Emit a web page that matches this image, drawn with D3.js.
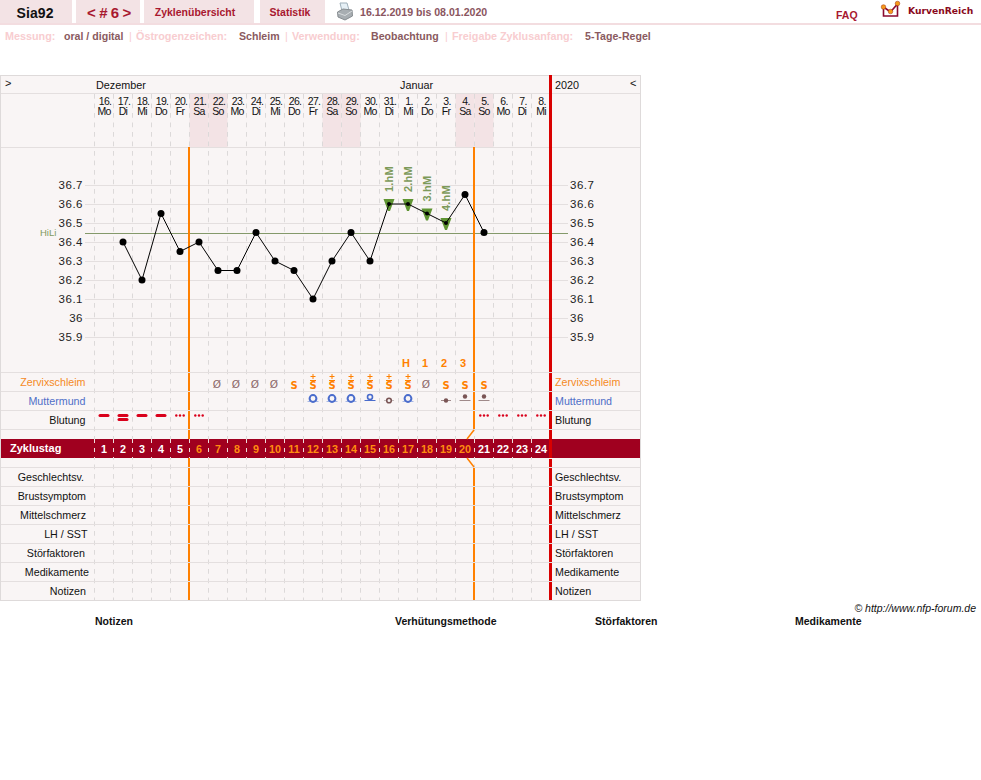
<!DOCTYPE html>
<html><head><meta charset="utf-8">
<style>html,body{margin:0;padding:0;background:#fff}svg{display:block}text{font-family:"Liberation Sans",Arial,sans-serif}</style>
<script src="https://cdn.jsdelivr.net/npm/d3@7"></script></head><body>
<script>
const dayLabels=["16.","17.","18.","19.","20.","21.","22.","23.","24.","25.","26.","27.","28.","29.","30.","31.","1.","2.","3.","4.","5.","6.","7.","8."];
const weekdays=["Mo","Di","Mi","Do","Fr","Sa","So","Mo","Di","Mi","Do","Fr","Sa","So","Mo","Di","Mi","Do","Fr","Sa","So","Mo","Di","Mi"];
const temps=[null,36.4,36.2,36.55,36.35,36.4,36.25,36.25,36.45,36.3,36.25,36.1,36.3,36.45,36.3,36.6,36.6,36.55,36.5,36.65,36.45,null,null,null];
const tempTicks=[36.7,36.6,36.5,36.4,36.3,36.2,36.1,36,35.9];
const hiLi=36.45;
const highMarks=[[15,"1.hM"],[16,"2.hM"],[17,"3.hM"],[18,"4.hM"]];
const peakMarks=[[16,"H"],[17,"1"],[18,"2"],[19,"3"]];
const mucus=["","","","","","","Ø","Ø","Ø","Ø","S","S+","S+","S+","S+","S+","S+","Ø","S","S","S","","",""];
const cervix=["","","","","","","","","","","","open","open","open","mid","low","open","","flat","dot","dot","","",""];
const bleeding=["heavy","double","heavy","heavy","light","light","","","","","","","","","","","","","","","light","light","light","light"];
const cycleDays=d3.range(1,25);
const rowLabels=[["Zervixschleim","#f58a1f"],["Muttermund","#4f6fc8"],["Blutung","#111"]];
const lowerLabels=["Geschlechtsv.","Brustsymptom","Mittelschmerz","LH / SST","Störfaktoren","Medikamente","Notizen"];
const lowerLabelEnds=[84,86,86,87.5,85,89,86];
const meta=[["Messung:",5,0],["oral / digital",64,1],["|",129,0],["Östrogenzeichen:",136,0],["Schleim",239,1],["|",285,0],["Verwendung:",292,0],["Beobachtung",371,1],["|",445,0],["Freigabe Zyklusanfang:",452,0],["5-Tage-Regel",585,1]];
const tabs=[[0,72],[76,140],[144,254],[260,325]];
const footer=[["Notizen",95],["Verhütungsmethode",395],["Störfaktoren",595],["Medikamente",795]];
const weekendIdx=[5,6,12,13,19,20];
const rowLinesY=[93,147,372,391,410,429,467,486,505,524,543,562,581];

const W=981,H=780;
const svg=d3.select("body").append("svg").attr("width",W).attr("height",H);
const x=d3.scaleBand().domain(d3.range(24)).range([94.5,550.5]);
const cx=i=>x(i)+x.bandwidth()/2;
const y=d3.scaleLinear().domain([36.7,35.9]).range([185,337]);
const BAR="#a0001f",RED="#d90000",ORANGE="#ff8000",GRID="#e4dfdf",DASH="#dcd9d9",BG="#f9f5f5";
const txt=(g,s,px,py,o={})=>{const t=g.append("text").attr("x",px).attr("y",py).text(s)
  .attr("font-size",o.size||11).attr("fill",o.fill||"#111");
  if(o.bold)t.attr("font-weight","bold");if(o.anchor)t.attr("text-anchor",o.anchor);
  if(o.ls!=null)t.attr("letter-spacing",o.ls);if(o.italic)t.attr("font-style","italic");
  if(o.font)t.style("font-family",o.font);return t;};

// header
const hdr=svg.append("g");
hdr.selectAll("rect.tab").data(tabs).join("rect").attr("x",d=>d[0]).attr("y",0).attr("width",d=>d[1]-d[0]).attr("height",23).attr("fill","#f3e3e5");
hdr.append("rect").attr("x",0).attr("y",23).attr("width",W).attr("height",2).attr("fill","#f3dde0");
txt(hdr,"Sia92",35,18,{size:14,bold:true,anchor:"middle",fill:"#111",ls:.1});
txt(hdr,"< # 6 >",109,18,{size:15,bold:true,anchor:"middle",fill:"#a8182f",ls:-.4});
txt(hdr,"Zyklenübersicht",195,16,{size:10.5,bold:true,anchor:"middle",fill:"#a8182f"});
txt(hdr,"Statistik",290,16,{size:10.5,bold:true,anchor:"middle",fill:"#a8182f"});
txt(hdr,"16.12.2019 bis 08.01.2020",360,16,{size:10.6,bold:true,fill:"#8a5560"});
txt(hdr,"FAQ",836,18.5,{size:10.5,bold:true,fill:"#a8182f"});
txt(hdr,"KurvenReich",908,14,{size:9.2,bold:true,fill:"#8a0a20",font:"'DejaVu Sans'"});
// printer icon
const pr=hdr.append("g");
pr.append("path").attr("d","M340 3 L347 3 L349 10 L342 11 Z").attr("fill","#e6f0f6").attr("stroke","#9fb0ba");
pr.append("path").attr("d","M337.5 12 L343 9 L352 10 L352.5 16 L345 20 L338 17 Z").attr("fill","#a8aeb2").attr("stroke","#868c90");
pr.append("path").attr("d","M338 13 L345 15.5 L352 11").attr("fill","none").attr("stroke","#d8dcde");
// logo
const lg=hdr.append("g");
lg.append("path").attr("d","M883.5 7 L890.5 12 L897.5 4 L897.5 16 L883.5 16 Z").attr("fill","#fff").attr("stroke","#8a0a30").attr("stroke-width",1.6);
lg.selectAll("circle").data([[883.5,7],[890.5,11.5],[897.5,3.5]]).join("circle").attr("cx",d=>d[0]).attr("cy",d=>d[1]).attr("r",2.3).attr("fill","#f59a1a").attr("stroke","#a03010").attr("stroke-width",.5);

// meta row
const mg=svg.append("g");
meta.forEach(m=>txt(mg,m[0],m[1],40,{size:m[2]?10.6:10.8,bold:m[0]!=="|",fill:m[2]?"#8a5a60":"#f8cdd0"}));

// chart frame
const c=svg.append("g");
c.append("rect").attr("x",0.5).attr("y",75.5).attr("width",640).attr("height",525).attr("fill",BG).attr("stroke","#dedada");
c.selectAll("rect.we").data(weekendIdx).join("rect").attr("x",d=>x(d)).attr("y",94).attr("width",x.bandwidth()).attr("height",53).attr("fill","#f3e3e5");
// vertical dashed lines
c.selectAll("line.v").data(d3.range(24)).join("line").attr("x1",d=>x(d)).attr("x2",d=>x(d)).attr("y1",94).attr("y2",600)
 .attr("stroke",DASH).attr("stroke-dasharray","4.75,4.75");
// rows
c.selectAll("line.r").data(rowLinesY).join("line").attr("x1",1).attr("x2",640).attr("y1",d=>d+.5).attr("y2",d=>d+.5).attr("stroke",GRID);
// temp grid
c.selectAll("line.t").data(tempTicks).join("line").attr("x1",85).attr("x2",568).attr("y1",d=>Math.round(y(d))+.5).attr("y2",d=>Math.round(y(d))+.5).attr("stroke",GRID);
// axes
const axL=c.append("g").attr("transform","translate(83,0)").call(d3.axisLeft(y).tickValues(tempTicks).tickSize(0).tickPadding(0).tickFormat(d=>String(d)));
const axR=c.append("g").attr("transform","translate(570,0)").call(d3.axisRight(y).tickValues(tempTicks).tickSize(0).tickPadding(0).tickFormat(d=>String(d)));
[axL,axR].forEach(a=>{a.select(".domain").remove();a.selectAll("text").attr("font-size",11.5).attr("letter-spacing",.5).attr("fill","#222").style("font-family","'Liberation Sans'");});
// HiLi
c.append("line").attr("x1",85).attr("x2",568).attr("y1",Math.ceil(y(hiLi))+.5).attr("y2",Math.ceil(y(hiLi))+.5).attr("stroke","#84996a");
txt(c,"HiLi",40,236,{size:9.5,fill:"#7f9a5e"});
// month header
txt(c,"Dezember",96,89,{size:10.8});txt(c,"Januar",400,89,{size:10.8});txt(c,"2020",555,89,{size:10.8});txt(c,">",5,87);txt(c,"<",630,87);
// days
const tg=c.append("g");
dayLabels.forEach((d,i)=>{txt(tg,d,cx(i)+1,105,{size:10.5,anchor:"middle",ls:-.7});txt(tg,weekdays[i],cx(i),115,{size:10.5,anchor:"middle",ls:-.7});});

// bar
c.append("rect").attr("x",1).attr("y",439).attr("width",639).attr("height",19).attr("fill",BAR);
c.selectAll("line.b").data(d3.range(24)).join("line").attr("x1",d=>x(d)).attr("x2",d=>x(d)).attr("y1",439).attr("y2",458).attr("stroke","#efdcdc").attr("stroke-dasharray","4,5");
txt(c,"Zyklustag",10,452,{bold:true,fill:"#fff"});
cycleDays.forEach((d,i)=>txt(c,d,cx(i),453,{size:10.8,bold:true,anchor:"middle",fill:(i>=5&&i<20)?"#ff8c10":"#fff"}));

// orange lines, broken at row borders
const orangeX=[x(5)-.5,x(20)-.5];
const segs=[[147,372],[373,391],[392,410],[411,429],[468,486],[487,505],[506,524],[525,543],[544,562],[563,581],[582,600]];
orangeX.forEach((ox,k)=>{
  segs.forEach(b=>c.append("line").attr("x1",ox).attr("x2",ox).attr("y1",b[0]).attr("y2",b[1]).attr("stroke",ORANGE).attr("stroke-width",2));
  if(k===0){
    [[430,439],[458,467]].forEach(b=>c.append("line").attr("x1",ox).attr("x2",ox).attr("y1",b[0]).attr("y2",b[1]).attr("stroke",ORANGE).attr("stroke-width",2));
  } else {
    c.append("line").attr("x1",ox).attr("x2",ox-7).attr("y1",430).attr("y2",439).attr("stroke",ORANGE).attr("stroke-width",1.5);
    c.append("line").attr("x1",ox-7).attr("x2",ox).attr("y1",458).attr("y2",467).attr("stroke",ORANGE).attr("stroke-width",1.5);
  }
});
// thick red line
[[75,372],[373,391],[392,410],[411,429],[430,458],[459,467],[468,486],[487,505],[506,524],[525,543],[544,562],[563,581],[582,600]].forEach(b=>
 c.append("rect").attr("x",549).attr("y",b[0]).attr("width",3).attr("height",b[1]-b[0]).attr("fill",RED));

// row labels
const rowY=[386,405,424];
rowLabels.forEach((r,i)=>{txt(c,r[0],85.5,rowY[i],{size:10.7,anchor:"end",fill:r[1]});txt(c,r[0],555,rowY[i],{size:10.7,fill:r[1]});});
lowerLabels.forEach((l,i)=>{const py=481+i*19;txt(c,l,lowerLabelEnds[i],py,{size:10.7,anchor:"end"});txt(c,l,555,py,{size:10.7});});

// peak marks
peakMarks.forEach(p=>txt(c,p[1],cx(p[0])-2,367,{bold:true,anchor:"middle",fill:ORANGE}));
// mucus
mucus.forEach((m,i)=>{ if(!m)return;
  if(m==="Ø"){txt(c,"Ø",cx(i)-1,387.5,{anchor:"middle",size:10.5,fill:"#8a6666",font:"'DejaVu Sans'"});return;}
  txt(c,"S",cx(i),388.5,{anchor:"middle",bold:true,size:10,fill:ORANGE,font:"'DejaVu Sans'"});
  if(m==="S+"){ // plus with a bar under it, drawn as a glyph above the S
    const px=cx(i);
    c.append("path").attr("d",`M${px-2.5} 376.5 H${px+2.5} M${px} 374 V379 M${px-3} 380.5 H${px+3}`).attr("stroke",ORANGE).attr("fill","none");
  }
});
// cervix
const BLUE="#4a6ccc",BRN="#7a5555";
cervix.forEach((t,i)=>{ if(!t)return; const px=cx(i);
  const ln=(py,w,col)=>c.append("line").attr("x1",px-w).attr("x2",px+w).attr("y1",py).attr("y2",py).attr("stroke",col);
  if(t==="open"){ln(401.5,5.5,"#a8b8e4");c.append("circle").attr("cx",px).attr("cy",398.5).attr("r",3.4).attr("fill",BG).attr("stroke",BLUE).attr("stroke-width",2);}
  if(t==="mid"){ln(400.5,5.5,BLUE);c.append("circle").attr("cx",px).attr("cy",397).attr("r",2.5).attr("fill",BG).attr("stroke",BLUE).attr("stroke-width",1.6);}
  if(t==="low"){ln(400.5,5,"#c5bcbc");c.append("circle").attr("cx",px).attr("cy",400.5).attr("r",2.3).attr("fill",BG).attr("stroke",BRN).attr("stroke-width",1.6);}
  if(t==="flat"){ln(400.5,5,"#a08a8a");c.append("circle").attr("cx",px).attr("cy",400.5).attr("r",2.2).attr("fill",BRN);}
  if(t==="dot"){ln(400.5,5.5,"#a08a8a");c.append("circle").attr("cx",px).attr("cy",396.5).attr("r",2.2).attr("fill",BRN);}
});
// bleeding
bleeding.forEach((b,i)=>{ if(!b)return; const px=cx(i);
  const dash=py=>c.append("rect").attr("x",px-5.5).attr("y",py).attr("width",11).attr("height",3).attr("rx",1.5).attr("fill","#d9001b");
  if(b==="heavy")dash(414);
  if(b==="double"){dash(414);dash(418);}
  if(b==="light")[-3.7,0,3.7].forEach(o=>c.append("circle").attr("cx",px+o).attr("cy",415.5).attr("r",1.2).attr("fill","#d9001b"));
});

// temperature line
const line=d3.line().defined(d=>d!=null).x((d,i)=>cx(i)).y(d=>y(d));
const highIdx=highMarks.map(h=>h[0]);
// high marks below the curve
highMarks.forEach(h=>{const px=cx(h[0]),py=y(temps[h[0]]);
  c.append("path").attr("d",`M${px-5.5} ${py-5} L${px+5.5} ${py-5} L${px+1} ${py+7} L${px-1} ${py+7} Z`).attr("fill","#5f9432");
  txt(c,h[1],0,0,{bold:true,fill:"#7d9a5a",ls:.2}).attr("transform",`translate(${px+4},${py-12}) rotate(-90)`);
});
c.append("path").attr("d",line(temps)).attr("fill","none").attr("stroke","#000").attr("stroke-width",1);
c.selectAll("circle.t").data(temps.map((v,i)=>[v,i]).filter(d=>d[0]!=null)).join("circle").attr("cx",d=>cx(d[1])).attr("cy",d=>y(d[0])).attr("r",d=>highIdx.includes(d[1])?2:3.5).attr("fill","#000");

// footer
const f=svg.append("g");
txt(f,"© http://www.nfp-forum.de",976,612,{italic:true,anchor:"end",size:10.5});
footer.forEach(t=>txt(f,t[0],t[1],625,{bold:true,size:10.5}));
</script></body></html>
